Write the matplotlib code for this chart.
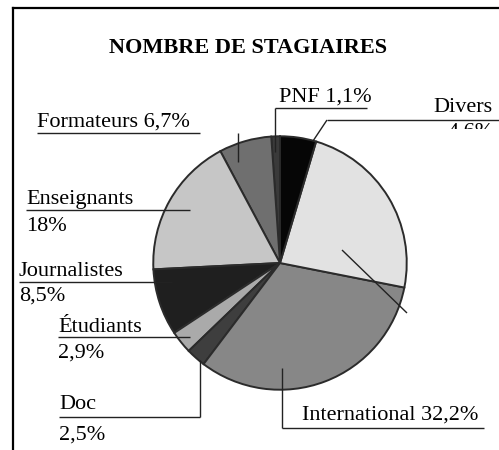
import matplotlib.pyplot as plt
from matplotlib.transforms import Bbox

# slices counter-clockwise from the top
labels = ["PNF", "Formateurs", "Enseignants", "Journalistes", "Étudiants",
          "Doc", "International", "", "Divers"]
values = [1.1, 6.7, 18, 8.5, 2.9, 2.5, 32.2, 23.5, 4.6]
colors = ["#3a3a3a", "#6f6f6f", "#c6c6c6", "#1f1f1f", "#aaaaaa",
          "#3e3e3e", "#878787", "#e2e2e2", "#060606"]

W, H = 499, 450
fig = plt.figure(figsize=(W / 100, H / 100), dpi=100)

# pie axes: centre (280, 263), radius 128 px
cx, cy, r = 280, 263, 128
ax = fig.add_axes([(cx - r) / W, (H - cy - r) / H, 2 * r / W, 2 * r / H])
ax.pie(values, colors=colors, startangle=90, counterclock=True,
       wedgeprops=dict(edgecolor="#2b2b2b", linewidth=1.4))
ax.set_xlim(-1.01, 1.01)
ax.set_ylim(-1.01, 1.01)
ax.axis("off")

# overlay in pixel coordinates for frame, texts and leader lines (on top)
ov = fig.add_axes([0, 0, 1, 1])
ov.set_xlim(0, W)
ov.set_ylim(H, 0)
ov.axis("off")
ov.set_zorder(3)

# frame
ov.plot([13, 13], [8, H], color="black", lw=1.6)
ov.plot([13, W], [8, 8], color="black", lw=1.6)

font = "Liberation Serif"
fs = 16
ov.text(248, 53, "NOMBRE DE STAGIAIRES", ha="center", va="baseline",
        fontsize=16, fontweight="bold", family=font)

def txt(x, y, s, ha="left"):
    return ov.text(x, y, s, ha=ha, va="baseline", fontsize=fs, family=font)

def line(xs, ys, lw=1.0):
    ov.plot(xs, ys, color="#222222", lw=lw, solid_capstyle="butt")

# PNF
txt(279, 102, "PNF 1,1%")
line([275, 367], [108, 108])
line([275, 275], [108, 152])

# Divers
txt(493, 112, "Divers", ha="right")
line([327, W], [120, 120])
line([327, 313], [120, 141])
t = txt(448, 137, "4,6%")
t.set_clip_on(True)
t.set_clip_box(Bbox.from_extents(440, H - 129, 500, H - 121))

# Formateurs
txt(37, 127, "Formateurs 6,7%")
line([37, 200], [133, 133])
line([238, 238], [133, 162])

# Enseignants
txt(26, 204, "Enseignants")
line([26, 190], [210, 210])
txt(26, 231, "18%")

# Journalistes
txt(19, 276, "Journalistes")
line([19, 172], [282, 282])
txt(19, 301, "8,5%")

# Étudiants
txt(58, 332, "Étudiants")
line([58, 190], [337, 337])
txt(58, 358, "2,9%")

# Doc
txt(59, 409, "Doc")
line([59, 200], [417, 417])
line([200, 200], [417, 360])
txt(59, 440, "2,5%")

# International
txt(302, 420, "International 32,2%")
line([282, 484], [428, 428])
line([282, 282], [428, 368])

# light slice leader (label cut off in the source)
line([342, 407], [250, 313])

fig.savefig("out.png", dpi=100)
